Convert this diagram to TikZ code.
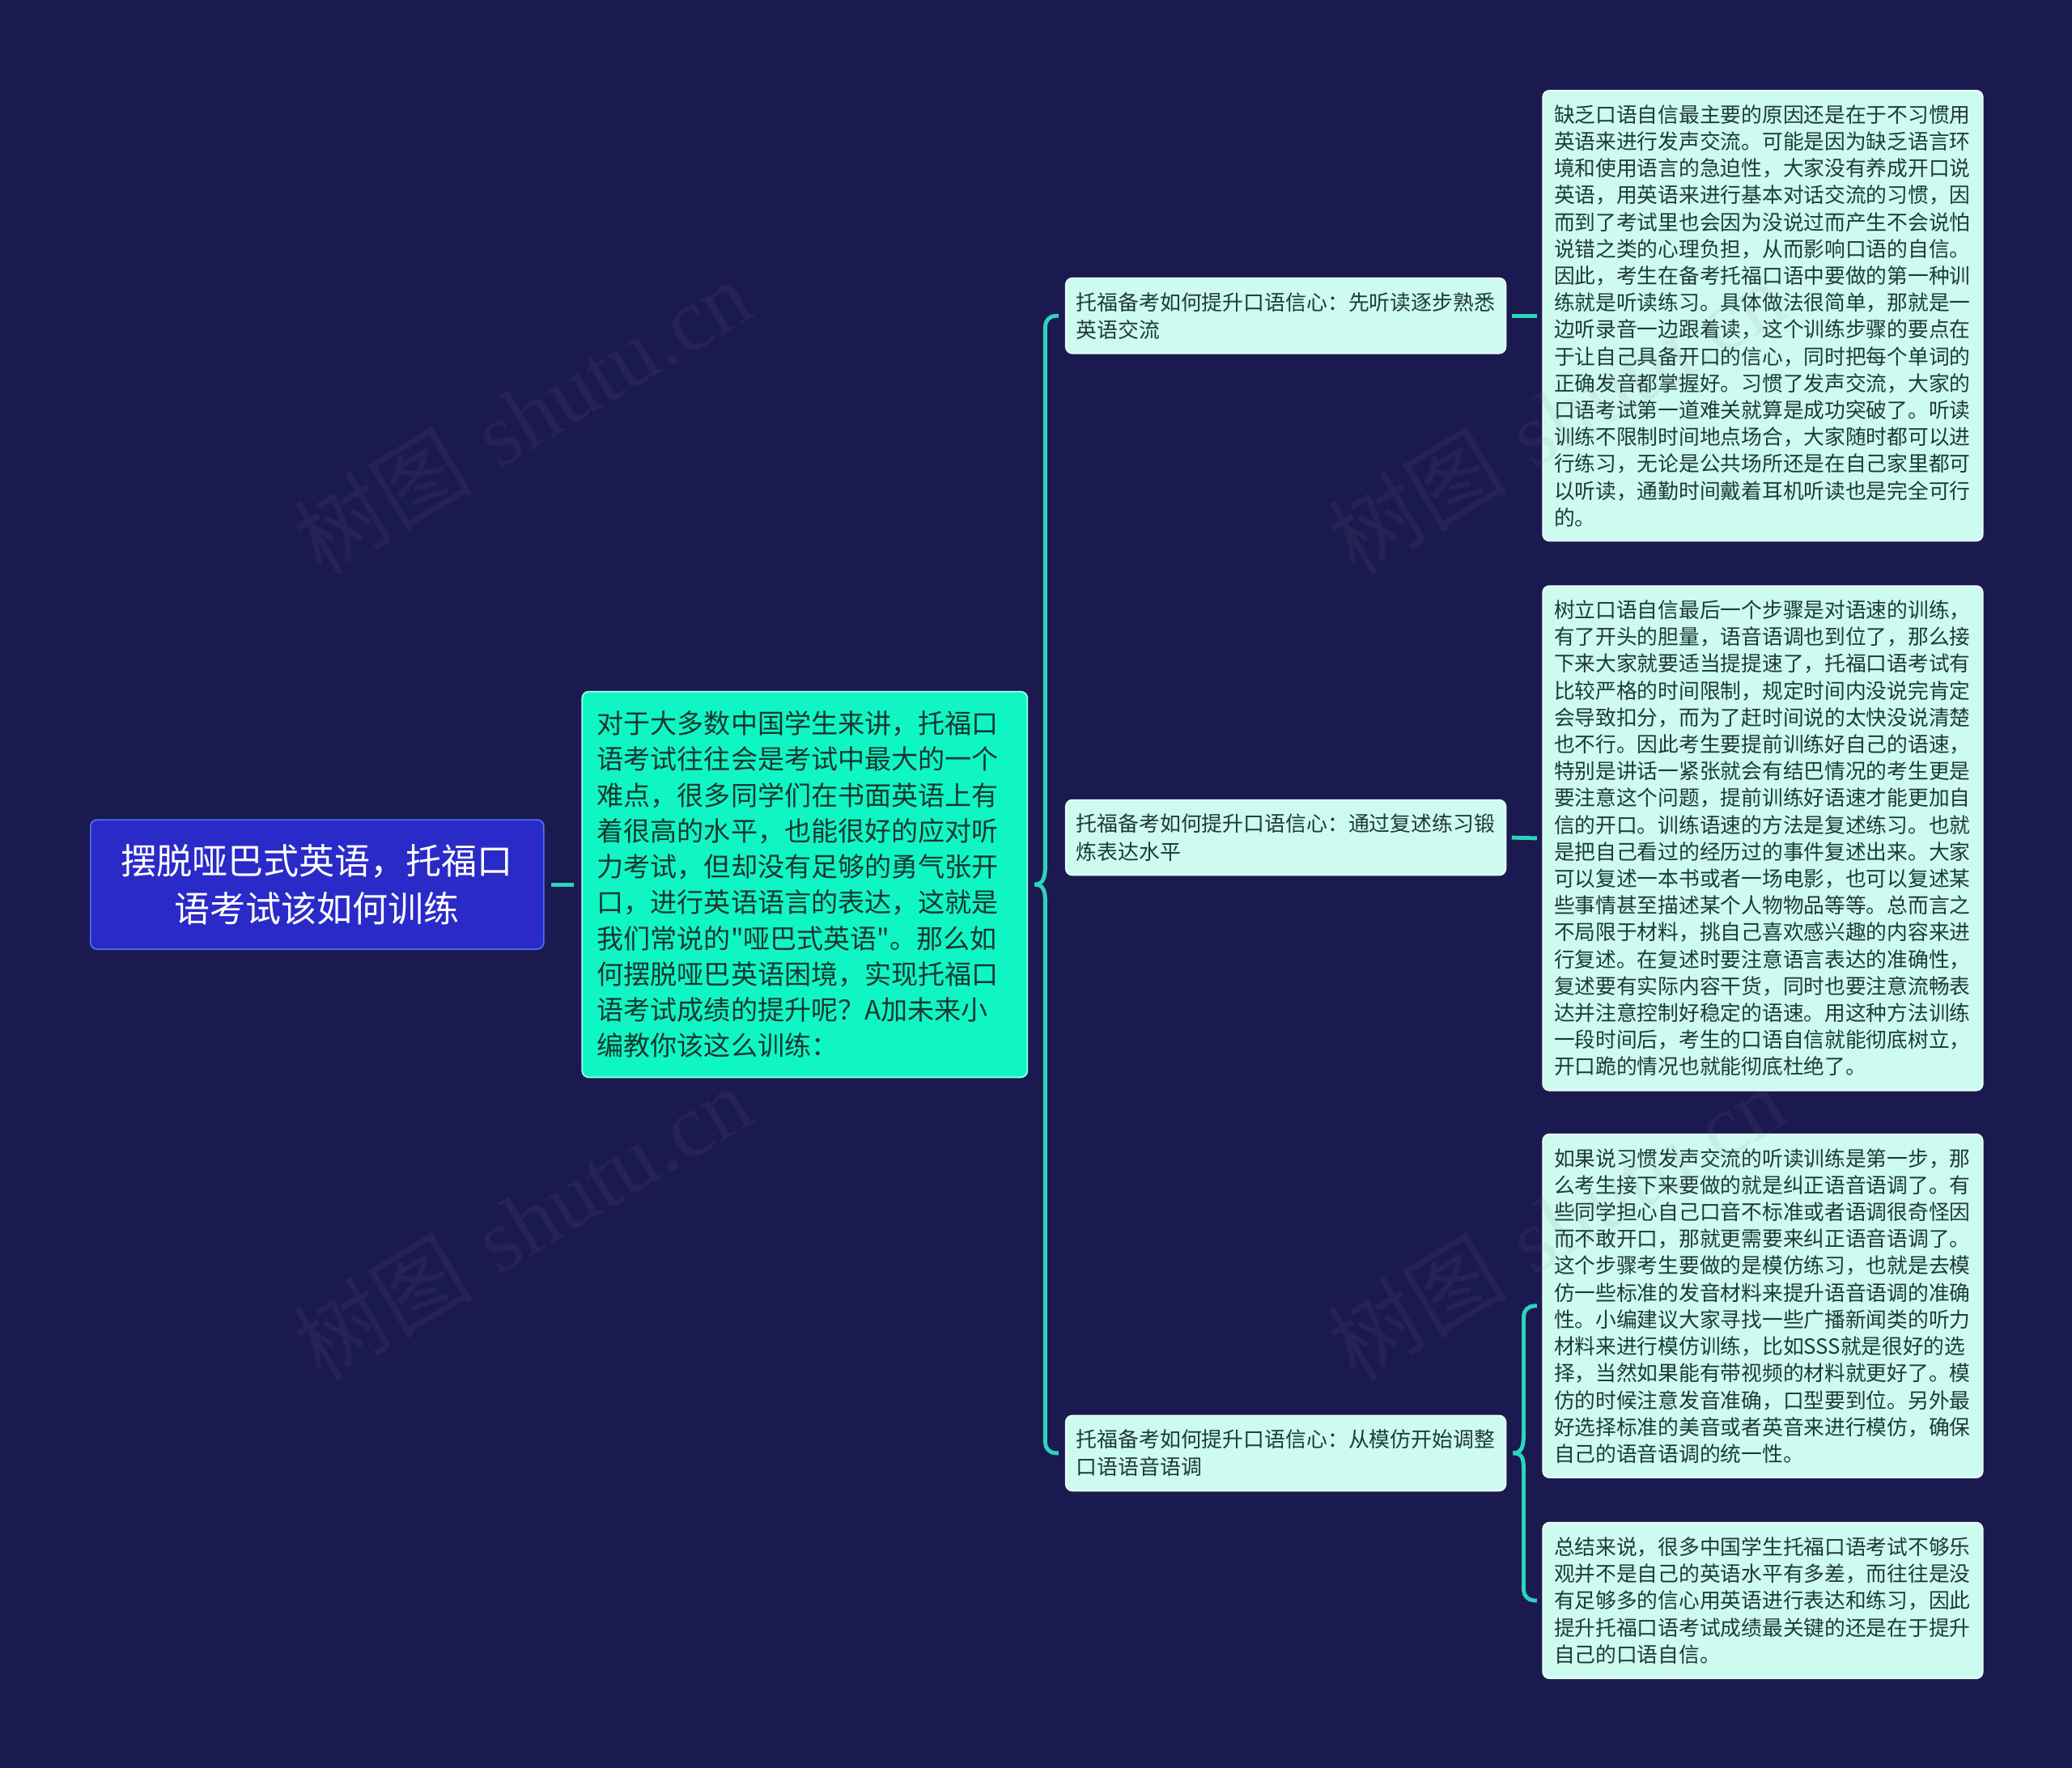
\documentclass[tikz,border=0pt]{standalone}
\usepackage{fontspec}
\newfontfamily\cjk{Noto Sans CJK SC}
\newfontfamily\wmserif{Liberation Serif}
\definecolor{bgcol}{HTML}{1B1A50}
\definecolor{rootfill}{HTML}{2A2AC8}
\definecolor{rootdraw}{HTML}{4A78F0}
\definecolor{mainfill}{HTML}{10F5C4}
\definecolor{maindraw}{HTML}{A8FFE8}
\definecolor{maintext}{HTML}{17372F}
\definecolor{mintfill}{HTML}{CDFBEF}
\definecolor{mintdraw}{HTML}{EFFFFA}
\definecolor{minttext}{HTML}{1E3B35}
\definecolor{conncol}{HTML}{2BD4BE}
\tikzset{
  boxbase/.style={rounded corners=2.5pt, inner ysep=0pt, anchor=north west, line width=0.5pt},
  rootbox/.style={boxbase, fill=rootfill, draw=rootdraw, text=white, align=center,
    font=\cjk\fontsize{13.48pt}{18pt}\selectfont, minimum width=171.5pt, minimum height=49pt, inner xsep=0pt},
  mainbox/.style={boxbase, fill=mainfill, draw=maindraw, text=maintext, align=left,
    font=\cjk\fontsize{10.12pt}{13.56pt}\selectfont, text width=157.1pt, inner xsep=5.7pt},
  branchbox/.style={boxbase, fill=mintfill, draw=mintdraw, text=minttext, align=left,
    font=\cjk\fontsize{7.92pt}{10.45pt}\selectfont, text width=158.5pt, inner xsep=4pt, minimum height=28.5pt},
  detailbox/.style={boxbase, fill=mintfill, draw=mintdraw, text=minttext, align=left,
    font=\cjk\fontsize{7.88pt}{10.17pt}\selectfont, text width=158pt, inner xsep=4.25pt},
  conn/.style={draw=conncol, line width=1.5pt},
  wmark/.style={text=gray, opacity=0.09, rotate=31, font=\fontsize{34pt}{38pt}\selectfont}
}
\begin{document}
\begin{tikzpicture}[x=0.5pt,y=-0.5pt]
\fill[bgcol] (0,0) rectangle (1568,1338);
\useasboundingbox (0,0) rectangle (1568,1338);

\node[rootbox] (root) at (68,620) {摆脱哑巴式英语，托福口\\语考试该如何训练};

\node[mainbox, minimum height=146pt] (main) at (440,523) {对于大多数中国学生来讲，托福口\\语考试往往会是考试中最大的一个\\难点，很多同学们在书面英语上有\\着很高的水平，也能很好的应对听\\力考试，但却没有足够的勇气张开\\口，进行英语语言的表达，这就是\\我们常说的"哑巴式英语"。那么如\\何摆脱哑巴英语困境，实现托福口\\语考试成绩的提升呢？A加未来小\\编教你该这么训练：};

\node[branchbox] (b1) at (806,210) {托福备考如何提升口语信心：先听读逐步熟悉\\英语交流};
\node[branchbox] (b2) at (806,605) {托福备考如何提升口语信心：通过复述练习锻\\炼表达水平};
\node[branchbox] (b3) at (806,1071) {托福备考如何提升口语信心：从模仿开始调整\\口语语音语调};

\node[detailbox, minimum height=170.5pt] (d1) at (1167,68) {缺乏口语自信最主要的原因还是在于不习惯用\\英语来进行发声交流。可能是因为缺乏语言环\\境和使用语言的急迫性，大家没有养成开口说\\英语，用英语来进行基本对话交流的习惯，因\\而到了考试里也会因为没说过而产生不会说怕\\说错之类的心理负担，从而影响口语的自信。\\因此，考生在备考托福口语中要做的第一种训\\练就是听读练习。具体做法很简单，那就是一\\边听录音一边跟着读，这个训练步骤的要点在\\于让自己具备开口的信心，同时把每个单词的\\正确发音都掌握好。习惯了发声交流，大家的\\口语考试第一道难关就算是成功突破了。听读\\训练不限制时间地点场合，大家随时都可以进\\行练习，无论是公共场所还是在自己家里都可\\以听读，通勤时间戴着耳机听读也是完全可行\\的。};

\node[detailbox, minimum height=191pt] (d2) at (1167,443) {树立口语自信最后一个步骤是对语速的训练，\\有了开头的胆量，语音语调也到位了，那么接\\下来大家就要适当提提速了，托福口语考试有\\比较严格的时间限制，规定时间内没说完肯定\\会导致扣分，而为了赶时间说的太快没说清楚\\也不行。因此考生要提前训练好自己的语速，\\特别是讲话一紧张就会有结巴情况的考生更是\\要注意这个问题，提前训练好语速才能更加自\\信的开口。训练语速的方法是复述练习。也就\\是把自己看过的经历过的事件复述出来。大家\\可以复述一本书或者一场电影，也可以复述某\\些事情甚至描述某个人物物品等等。总而言之\\不局限于材料，挑自己喜欢感兴趣的内容来进\\行复述。在复述时要注意语言表达的准确性，\\复述要有实际内容干货，同时也要注意流畅表\\达并注意控制好稳定的语速。用这种方法训练\\一段时间后，考生的口语自信就能彻底树立，\\开口跪的情况也就能彻底杜绝了。};

\node[detailbox, minimum height=130pt] (d3) at (1167,858) {如果说习惯发声交流的听读训练是第一步，那\\么考生接下来要做的就是纠正语音语调了。有\\些同学担心自己口音不标准或者语调很奇怪因\\而不敢开口，那就更需要来纠正语音语调了。\\这个步骤考生要做的是模仿练习，也就是去模\\仿一些标准的发音材料来提升语音语调的准确\\性。小编建议大家寻找一些广播新闻类的听力\\材料来进行模仿训练，比如SSS就是很好的选\\择，当然如果能有带视频的材料就更好了。模\\仿的时候注意发音准确，口型要到位。另外最\\好选择标准的美音或者英音来进行模仿，确保\\自己的语音语调的统一性。};

\node[detailbox, minimum height=59pt] (d4) at (1167,1152) {总结来说，很多中国学生托福口语考试不够乐\\观并不是自己的英语水平有多差，而往往是没\\有足够多的信心用英语进行表达和练习，因此\\提升托福口语考试成绩最关键的还是在于提升\\自己的口语自信。};

% connectors
\draw[conn] ([xshift=2.5pt]root.east) -- ([xshift=-3pt]main.west);

\coordinate (tipA) at ([xshift=2.5pt]main.east);
\coordinate (spineA) at (791,669);
\draw[conn] (tipA) .. controls +(7,0) and +(0,8) .. (791,655)
  [rounded corners=4pt] -- (spineA |- b1.west) -- ([xshift=-2.5pt]b1.west);
\draw[conn] (tipA) .. controls +(7,0) and +(0,-8) .. (791,683)
  [rounded corners=4pt] -- (spineA |- b3.west) -- ([xshift=-2.5pt]b3.west);

\draw[conn] ([xshift=2pt]b1.east) -- ([xshift=-2pt]d1.west);
\draw[conn] ([xshift=2pt]b2.east) -- ([xshift=-2pt]d2.west);

\coordinate (tipB) at ([xshift=2.5pt]b3.east);
\coordinate (spineB) at (1153,1099);
\draw[conn] (tipB) .. controls +(7,0) and +(0,8) .. (1153,1086)
  [rounded corners=4pt] -- (spineB |- d3.west) -- ([xshift=-2pt]d3.west);
\draw[conn] (tipB) .. controls +(7,0) and +(0,-8) .. (1153,1112)
  [rounded corners=4pt] -- (spineB |- d4.west) -- ([xshift=-2pt]d4.west);

% watermarks
\node[wmark] (wm1) at (395,315) {{\cjk 树图} {\wmserif shutu.cn}};
\node[wmark] (wm2) at (395,925) {{\cjk 树图} {\wmserif shutu.cn}};
\node[wmark] (wm3) at (1178,315) {{\cjk 树图} {\wmserif shutu.cn}};
\node[wmark] (wm4) at (1178,925) {{\cjk 树图} {\wmserif shutu.cn}};
\end{tikzpicture}
\end{document}
